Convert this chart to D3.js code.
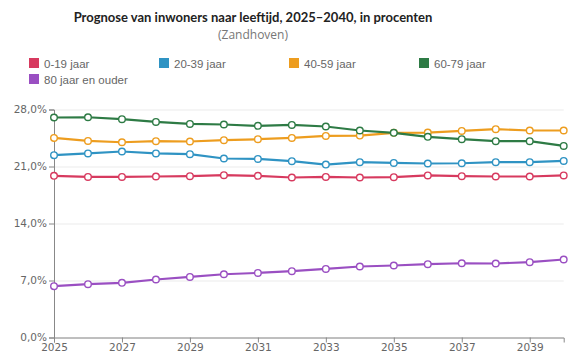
<!DOCTYPE html>
<meta charset="utf-8">
<style>
body { margin: 0; background: #fff; }
svg { display: block; }
.title { font-family: Lato, sans-serif; font-weight: bold; font-size: 13px; fill: #222; }
.subtitle { font-family: "Open Sans", sans-serif; font-size: 12px; fill: #777; }
.legend text { font-family: "Liberation Sans", Arial, sans-serif; font-size: 11.5px; fill: #666; }
.axis text { font-family: "DejaVu Sans", sans-serif; font-size: 10.5px; fill: #666; }
.axis path, .axis line { stroke: #888; }
.grid line { stroke: #ebebeb; }
.grid path { display: none; }
</style>
<svg width="571" height="354"></svg>
<script src="https://d3js.org/d3.v7.min.js"></script>
<script>
var years = d3.range(2025, 2041);
var seriesNames = ["0-19 jaar", "20-39 jaar", "40-59 jaar", "60-79 jaar", "80 jaar en ouder"];
var seriesColors = ["#d73a5f", "#2f93c3", "#ed9d1f", "#2e7b45", "#9a4fc2"];
var yTicks = [0, 7, 14, 21, 28];
var xTicks = [2025, 2027, 2029, 2031, 2033, 2035, 2037, 2039];

var age0_19  = [19.85, 19.72, 19.72, 19.77, 19.81, 19.93, 19.85, 19.65, 19.72, 19.65, 19.69, 19.9, 19.81, 19.77, 19.77, 19.9];
var age20_39 = [22.39, 22.6, 22.84, 22.6, 22.51, 21.98, 21.93, 21.65, 21.24, 21.53, 21.44, 21.37, 21.4, 21.53, 21.53, 21.69];
var age40_59 = [24.51, 24.14, 23.98, 24.11, 24.07, 24.23, 24.35, 24.51, 24.76, 24.8, 25.13, 25.17, 25.37, 25.58, 25.42, 25.42];
var age60_79 = [27.02, 27.05, 26.81, 26.48, 26.23, 26.16, 25.99, 26.11, 25.91, 25.42, 25.13, 24.64, 24.35, 24.11, 24.11, 23.53];
var age80    = [6.3, 6.55, 6.71, 7.12, 7.44, 7.77, 7.93, 8.14, 8.42, 8.72, 8.84, 9.0, 9.12, 9.09, 9.25, 9.58];

var seriesValues = [age0_19, age20_39, age40_59, age60_79, age80];

var svg = d3.select("svg"),
    margin = {top: 109.5, right: 7.3, bottom: 16.5, left: 54},
    width = +svg.attr("width") - margin.left - margin.right,
    height = +svg.attr("height") - margin.top - margin.bottom;

svg.append("text").attr("class", "title")
  .attr("x", 253).attr("y", 22).attr("text-anchor", "middle")
  .text("Prognose van inwoners naar leeftijd, 2025–2040, in procenten");
svg.append("text").attr("class", "subtitle")
  .attr("x", 253).attr("y", 39).attr("text-anchor", "middle")
  .text("(Zandhoven)");

// legend
var legendPos = [[29, 63], [159, 63], [289, 63], [419, 63], [29, 79]];
var legend = svg.append("g").attr("class", "legend");
seriesNames.forEach(function(name, i) {
  var item = legend.append("g").attr("transform", "translate(" + legendPos[i][0] + "," + legendPos[i][1] + ")");
  item.append("rect").attr("x", 0).attr("y", -5).attr("width", 10).attr("height", 10)
    .attr("fill", seriesColors[i]);
  item.append("text").attr("x", 15).attr("y", 4.5).text(name);
});

var x = d3.scaleLinear().domain([2025, 2040]).range([0, width]);
var y = d3.scaleLinear().domain([0, 28]).range([height, 0]);

var g = svg.append("g")
  .attr("transform", "translate(" + margin.left + "," + margin.top + ")");

g.append("g")
  .attr("class", "grid")
  .call(d3.axisLeft(y).tickValues(yTicks).tickSize(-width).tickFormat(""));

g.append("g")
  .attr("class", "y axis")
  .call(d3.axisLeft(y).tickValues(yTicks).tickSize(5).tickPadding(2)
    .tickFormat(function(d) { return d.toFixed(1).replace(".", ",") + "%"; }));

g.append("g")
  .attr("class", "x axis")
  .attr("transform", "translate(0," + height + ")")
  .call(d3.axisBottom(x).tickValues(xTicks).tickSize(5).tickPadding(1).tickFormat(d3.format("d")));

var line = d3.line()
  .x(function(d, i) { return x(years[i]); })
  .y(function(d) { return y(d); });

seriesValues.forEach(function(vals, s) {
  g.append("path")
    .datum(vals)
    .attr("fill", "none")
    .attr("stroke", seriesColors[s])
    .attr("stroke-width", 2.2)
    .attr("d", line);
  g.selectAll(".dot" + s)
    .data(vals)
    .enter().append("circle")
    .attr("class", "dot" + s)
    .attr("cx", function(d, i) { return x(years[i]); })
    .attr("cy", function(d) { return y(d); })
    .attr("r", 3.3)
    .attr("fill", "#fff")
    .attr("stroke", seriesColors[s])
    .attr("stroke-width", 1.4);
});
</script>
